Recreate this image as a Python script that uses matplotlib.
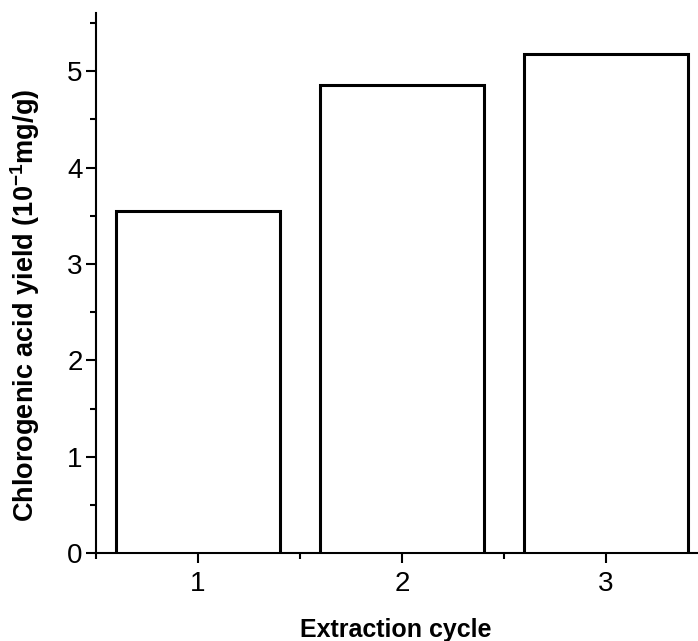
import matplotlib
matplotlib.use("Agg")
import matplotlib.pyplot as plt
from matplotlib.ticker import MultipleLocator

plt.rcParams['font.family'] = ['Liberation Sans', 'DejaVu Sans']
plt.rcParams['mathtext.fontset'] = 'custom'
plt.rcParams['mathtext.rm'] = 'Liberation Sans:bold'
plt.rcParams['mathtext.it'] = 'Liberation Sans:bold'
plt.rcParams['mathtext.bf'] = 'Liberation Sans:bold'
plt.rcParams['mathtext.default'] = 'rm'

# data
cycles = [1, 2, 3]
yield_vals = [3.55, 4.86, 5.18]
x_ticks = [1, 2, 3]
y_ticks = [0, 1, 2, 3, 4, 5]

fig = plt.figure(figsize=(6.98, 6.41), dpi=100)
# axes runs a little past the right edge of the figure, like the original
ax = fig.add_axes([0.1375, 0.1368, 0.877, 0.8424])

ax.bar(cycles, yield_vals, width=0.8, color='white', edgecolor='black',
       linewidth=2.2, zorder=3)

ax.set_xlim(0.5, 3.5)
ax.set_ylim(0, 5.6)
ax.set_xticks(x_ticks)
ax.set_yticks(y_ticks)
ax.xaxis.set_minor_locator(MultipleLocator(0.5))
ax.yaxis.set_minor_locator(MultipleLocator(0.5))

for s in ['top', 'right']:
    ax.spines[s].set_visible(False)
for s in ['left', 'bottom']:
    ax.spines[s].set_linewidth(1.5)

ax.tick_params(which='major', direction='out', length=7.5, width=1.5,
               labelsize=20)
ax.tick_params(axis='y', which='major', pad=2)
ax.tick_params(axis='x', which='major', pad=5)
ax.tick_params(which='minor', direction='out', length=4, width=1.5)

ax.set_xlabel('Extraction cycle', fontsize=18, fontweight='bold')
ax.set_ylabel('Chlorogenic acid yield (10$^{-1}$mg/g)', fontsize=19.5,
              fontweight='bold')
ax.xaxis.set_label_coords(0.489, -0.12)
ax.yaxis.set_label_coords(-0.088, 0.459)

fig.savefig('out.png', dpi=100)
